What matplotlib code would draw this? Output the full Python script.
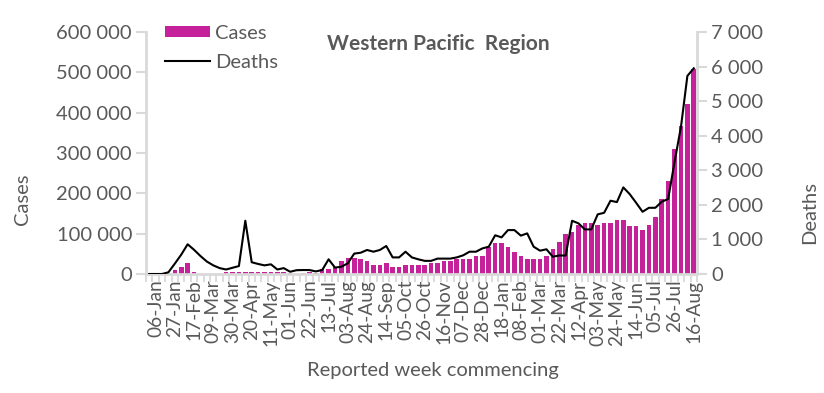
import matplotlib
matplotlib.use("Agg")
import matplotlib.pyplot as plt
import numpy as np
from matplotlib.ticker import FuncFormatter, FixedLocator

plt.rcParams['font.family'] = ['Lato', 'DejaVu Sans']

tick_labels = ['06-Jan', '27-Jan', '17-Feb', '09-Mar', '30-Mar', '20-Apr', '11-May', '01-Jun',
               '22-Jun', '13-Jul', '03-Aug', '24-Aug', '14-Sep', '05-Oct', '26-Oct', '16-Nov',
               '07-Dec', '28-Dec', '18-Jan', '08-Feb', '01-Mar', '22-Mar', '12-Apr', '03-May',
               '24-May', '14-Jun', '05-Jul', '26-Jul', '16-Aug']

# first category (week of 30-Dec) is unlabeled and empty
cases = [0, 0, 0, 1000, 10000, 17000, 28000, 5000, 800, 600, 1000,
         900, 6000, 6000, 6000, 6000, 6000, 6000, 6000, 5000, 5000,
         5000, 2000, 1000, 1500, 5000, 3500, 12000, 13000, 17000, 32000,
         40000, 40000, 37000, 32000, 22000, 22000, 27000, 17000, 17000, 22000,
         22000, 22000, 22000, 27000, 27000, 32000, 32000, 38000, 38000, 38000,
         44000, 44000, 66000, 77000, 77000, 66000, 54000, 44000, 38000, 38000,
         36000, 44000, 61000, 79000, 100000, 104000, 122000, 127000, 127000, 122000,
         127000, 127000, 133000, 133000, 119000, 119000, 109000, 122000, 142000, 186000,
         231000, 310000, 367000, 422000, 508000]

deaths = [0, 0, 0, 50, 300, 560, 860, 700, 520, 360, 250,
          170, 130, 180, 230, 1540, 340, 290, 250, 280, 130,
          170, 65, 110, 115, 115, 75, 115, 425, 185, 210,
          310, 590, 615, 695, 645, 695, 810, 480, 480, 645,
          480, 425, 380, 380, 445, 445, 445, 480, 540, 645,
          645, 740, 790, 1120, 1060, 1270, 1270, 1110, 1175, 790,
          675, 715, 500, 535, 535, 1540, 1465, 1290, 1290, 1725,
          1770, 2120, 2080, 2505, 2310, 2060, 1800, 1915, 1915, 2090,
          2170, 3245, 4260, 5730, 5950]

TXT = '#595959'
GRID = '#d9d9d9'
BAR = '#C4219A'
FS = 14.5

fig = plt.figure(figsize=(8.24, 3.93), dpi=100)
ax = fig.add_axes([146/824, 1-274/393, (697-146)/824, (274-32)/393])
ax2 = ax.twinx()

x = np.arange(len(cases))
bars = ax.bar(x, cases, width=0.72, color=BAR, label='Cases', zorder=2)
line, = ax2.plot(x, deaths, color='black', lw=1.5, label='Deaths', zorder=3)

ax.set_xlim(-0.5, len(cases) - 0.5)
ax.set_ylim(0, 600000)
ax2.set_ylim(0, 7000)
ax.set_yticks(np.arange(0, 600001, 100000))
ax2.set_yticks(np.arange(0, 7001, 1000))
fmt = FuncFormatter(lambda v, p: f"{v:,.0f}".replace(',', ' '))
ax.yaxis.set_major_formatter(fmt)
ax2.yaxis.set_major_formatter(fmt)

ax.set_xticks(np.arange(1, len(cases), 3))
ax.set_xticklabels(tick_labels, rotation=90, fontsize=13.8, color=TXT)
ax.xaxis.set_minor_locator(FixedLocator(np.arange(-0.5, len(cases), 1)))
ax.tick_params(axis='x', which='major', length=0, pad=4)
ax.tick_params(axis='x', which='minor', length=6, width=1.3, color=GRID)

for a in (ax, ax2):
    for s in a.spines.values():
        s.set_visible(False)
ax.spines['bottom'].set_visible(True)
ax.spines['bottom'].set_color(GRID)
ax.spines['bottom'].set_linewidth(2)
ax.spines['left'].set_visible(True)
ax.spines['left'].set_color(GRID)
ax.spines['left'].set_linewidth(2)
ax2.spines['right'].set_visible(True)
ax2.spines['right'].set_color(GRID)
ax2.spines['right'].set_linewidth(2)

ax.tick_params(axis='y', length=7, width=1.5, color=GRID, labelsize=FS, labelcolor=TXT, pad=3)
ax2.tick_params(axis='y', length=7, width=1.5, color=GRID, labelsize=FS, labelcolor=TXT, pad=3)

ax.set_ylabel('Cases', fontsize=FS, color=TXT, va='center')
ax.yaxis.set_label_coords(-0.225, 0.31)
ax2.set_ylabel('Deaths', fontsize=FS, color=TXT, va='center', rotation=90)
ax2.yaxis.set_label_coords(1.205, 0.255)
ax.set_xlabel('Reported week commencing', fontsize=FS, color=TXT, va='center')
ax.xaxis.set_label_coords(0.521, -0.397)

ax.text(0.53, 0.95, 'Western Pacific  Region', transform=ax.transAxes, ha='center', va='center',
        fontsize=15, fontweight='bold', color=TXT)

leg = ax.legend([bars, line], ['Cases', 'Deaths'], loc='upper left', bbox_to_anchor=(0.035, 1.03),
                frameon=False, fontsize=FS, labelcolor=TXT, handlelength=2.2, handleheight=0.5,
                handletextpad=0.25, borderaxespad=0, borderpad=0, labelspacing=0.6)

fig.savefig('out.png', dpi=100)
